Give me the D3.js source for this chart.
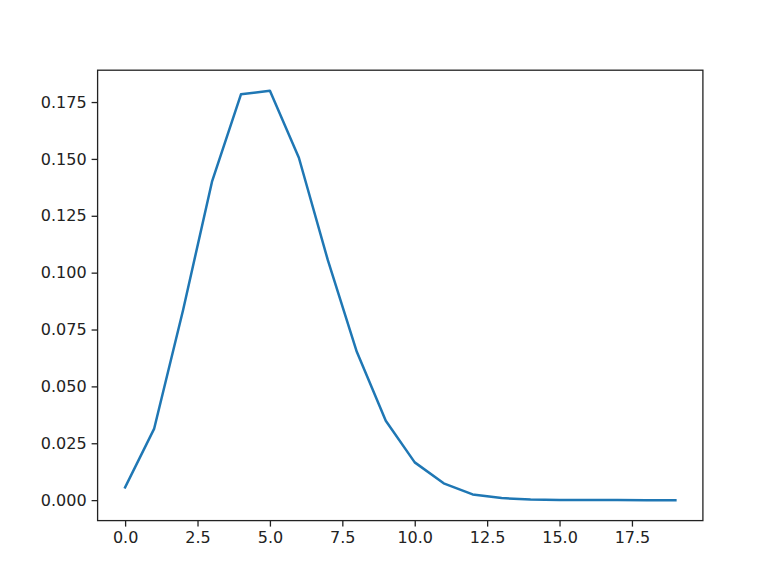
<!DOCTYPE html>
<html>
<head>
<meta charset="utf-8">
<script src="https://cdn.jsdelivr.net/npm/d3@7"></script>
<style>
  body { margin: 0; background: #fff; }
  svg { display: block; }
  .tick text { font-family: "DejaVu Sans", sans-serif; font-size: 16px; fill: #222; }
</style>
</head>
<body>
<svg width="781" height="585"></svg>
<script>
// values, one per integer x
const xValues = d3.range(0, 20);
const yValues = [0.0056, 0.0313, 0.0835, 0.1400, 0.1784, 0.1800, 0.1505, 0.1055, 0.0652, 0.0349,
                 0.0166, 0.0074, 0.0025, 0.0009, 0.0003, 0.0001, 0.00003, 0.00001, 0, 0];
const xTicks = [0, 2.5, 5, 7.5, 10, 12.5, 15, 17.5];
const yTicks = [0, 0.025, 0.05, 0.075, 0.1, 0.125, 0.15, 0.175];

const svg = d3.select("svg");
const w = 781, h = 585;
const padding = {left: 97.6, right: 781 * 0.9, top: 70.2, bottom: 520.6};

const xMin = d3.min(xValues), xMax = d3.max(xValues);
const yMin = d3.min(yValues), yMax = d3.max(yValues);
const xm = (xMax - xMin) * 0.05, ym = (yMax - yMin) * 0.05;

const xScale = d3.scaleLinear()
                 .domain([xMin - xm, xMax + xm])
                 .range([padding.left, padding.right]);
const yScale = d3.scaleLinear()
                 .domain([yMin - ym, yMax + ym])
                 .range([padding.bottom, padding.top]);

const xAxis = d3.axisBottom(xScale).tickValues(xTicks).tickFormat(d3.format(".1f"))
                .tickSizeInner(6).tickSizeOuter(0).tickPadding(5);
const yAxis = d3.axisLeft(yScale).tickValues(yTicks).tickFormat(d3.format(".3f"))
                .tickSizeInner(6).tickSizeOuter(0).tickPadding(5);

const line = d3.line()
               .x((d, i) => xScale(xValues[i]))
               .y(d => yScale(d));

svg.append("path")
   .datum(yValues)
   .attr("d", line)
   .attr("fill", "none")
   .attr("stroke", "#1f77b4")
   .attr("stroke-width", 2.5)
   .attr("stroke-linejoin", "round")
   .attr("stroke-linecap", "square");

const gx = svg.append("g")
   .attr("transform", "translate(0," + padding.bottom + ")")
   .call(xAxis);
const gy = svg.append("g")
   .attr("transform", "translate(" + padding.left + ",0)")
   .call(yAxis);
[gx, gy].forEach(g => {
  g.select(".domain").remove();
  g.selectAll(".tick line").attr("stroke", "#222").attr("stroke-width", 1.3);
});

// frame
svg.append("rect")
   .attr("x", padding.left)
   .attr("y", padding.top)
   .attr("width", padding.right - padding.left)
   .attr("height", padding.bottom - padding.top)
   .attr("fill", "none")
   .attr("stroke", "#222")
   .attr("stroke-width", 1.3);
</script>
</body>
</html>
